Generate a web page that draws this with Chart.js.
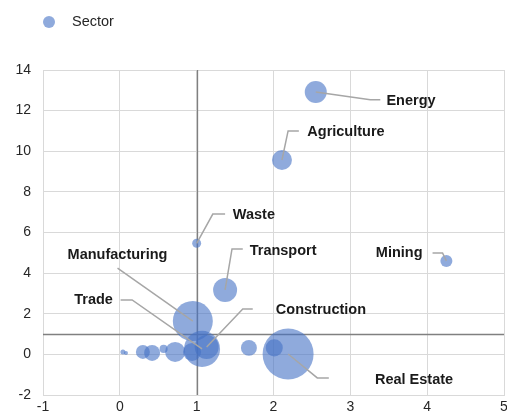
<!DOCTYPE html>
<html>
<head>
    <title>Sector bubble chart</title>
    <script src="https://cdn.jsdelivr.net/npm/chart.js"></script>
    <style>
        body {
            margin: 0;
            background: #ffffff;
            overflow: hidden;
            font-family: "Liberation Sans", Arial, sans-serif;
        }
        #sectorChart {
            display: block;
            width: 515px;
            height: 417px;
        }
    </style>
</head>
<body>
    <canvas id="sectorChart" width="515" height="417"></canvas>

    <script>
        // data
        var sectorNames = ['Energy', 'Agriculture', 'Waste', 'Transport', 'Mining', 'Manufacturing', 'Trade', 'Construction', 'Real Estate',
                           '', '', '', '', '', '', '', '', ''];
        var xValues = [2.55, 2.11, 1.00, 1.37, 4.25, 0.95, 1.07, 1.13, 2.19,
                       0.04, 0.08, 0.30, 0.42, 0.57, 0.72, 0.94, 1.68, 2.01];
        var yValues = [12.92, 9.57, 5.47, 3.17, 4.60, 1.64, 0.27, 0.36, 0.02,
                       0.12, 0.07, 0.12, 0.07, 0.27, 0.12, 0.12, 0.32, 0.32];
        var sizeValues = [19.4, 16, 3.2, 23, 5.8, 64, 52, 23, 104,
                          1, 0.64, 7.8, 10.2, 2.6, 16, 13, 10.2, 11.6];
        var xTicks = [-1, 0, 1, 2, 3, 4, 5];
        var yTicks = [-2, 0, 2, 4, 6, 8, 10, 12, 14];
        var seriesName = 'Sector';

        var bubbleColor = 'rgba(68, 114, 196, 0.6)';

        // callout placement (data units): leader path after the bubble centre, then the text
        var callouts = {
            'Energy':        { path: [[3.26, 12.53], [3.39, 12.53]], text: [3.47, 12.47], align: 'left' },
            'Agriculture':   { path: [[2.19, 11.0], [2.33, 11.0]],   text: [2.44, 10.95], align: 'left' },
            'Waste':         { path: [[1.21, 6.91], [1.37, 6.91]],   text: [1.47, 6.86], align: 'left' },
            'Transport':     { path: [[1.46, 5.19], [1.60, 5.19]],   text: [1.69, 5.09], align: 'left' },
            'Mining':        { path: [[4.20, 4.99], [4.07, 4.99]],   text: [3.94, 4.99], align: 'right' },
            'Manufacturing': { path: [[-0.03, 4.25]],                text: [-0.03, 4.90], align: 'center' },
            'Trade':         { path: [[0.16, 2.68], [0.01, 2.68]],   text: [-0.09, 2.68], align: 'right' },
            'Construction':  { path: [[1.60, 2.24], [1.73, 2.24]],   text: [2.03, 2.19], align: 'left' },
            'Real Estate':   { path: [[2.57, -1.16], [2.72, -1.16]], text: [3.32, -1.26], align: 'left' }
        };

        var points = xValues.map(function (x, i) {
            return { x: x, y: yValues[i], r: Math.sqrt(sizeValues[i]) * 2.5, name: sectorNames[i] };
        });

        var extrasPlugin = {
            id: 'extras',
            beforeDatasetsDraw: function (chart) {
                var ctx = chart.ctx, a = chart.chartArea;
                var xs = chart.scales.x, ys = chart.scales.y;
                ctx.save();
                ctx.strokeStyle = '#808080';
                ctx.lineWidth = 1.3;
                var px = Math.round(xs.getPixelForValue(1)) + 0.5;
                var py = Math.round(ys.getPixelForValue(1)) + 0.5;
                ctx.beginPath();
                ctx.moveTo(px, a.top);
                ctx.lineTo(px, a.bottom);
                ctx.moveTo(a.left, py);
                ctx.lineTo(a.right, py);
                ctx.stroke();
                ctx.restore();
            },
            afterDatasetsDraw: function (chart) {
                var ctx = chart.ctx;
                var xs = chart.scales.x, ys = chart.scales.y;
                ctx.save();
                ctx.strokeStyle = '#a6a6a6';
                ctx.lineWidth = 1.5;
                points.forEach(function (p) {
                    var c = callouts[p.name];
                    if (!c) return;
                    ctx.beginPath();
                    ctx.moveTo(xs.getPixelForValue(p.x), ys.getPixelForValue(p.y));
                    c.path.forEach(function (q) {
                        ctx.lineTo(xs.getPixelForValue(q[0]), ys.getPixelForValue(q[1]));
                    });
                    ctx.stroke();
                });
                ctx.fillStyle = '#1a1a1a';
                ctx.font = 'bold 14.5px "Liberation Sans", Arial, sans-serif';
                ctx.textBaseline = 'middle';
                points.forEach(function (p) {
                    var c = callouts[p.name];
                    if (!c) return;
                    ctx.textAlign = c.align;
                    ctx.fillText(p.name, xs.getPixelForValue(c.text[0]), ys.getPixelForValue(c.text[1]));
                });

                // legend
                ctx.fillStyle = bubbleColor;
                ctx.beginPath();
                ctx.arc(49, 22, 6, 0, Math.PI * 2);
                ctx.fill();
                ctx.fillStyle = '#262626';
                ctx.font = '14.5px "Liberation Sans", Arial, sans-serif';
                ctx.textAlign = 'left';
                ctx.fillText(seriesName, 72, 22);
                ctx.restore();
            }
        };

        var ctx = document.getElementById('sectorChart').getContext('2d');
        var sectorChart = new Chart(ctx, {
            type: 'bubble',
            data: {
                datasets: [{
                    label: seriesName,
                    data: points,
                    backgroundColor: bubbleColor,
                    borderWidth: 0,
                    hoverBorderWidth: 0
                }]
            },
            options: {
                responsive: false,
                animation: false,
                layout: {
                    autoPadding: false,
                    padding: { left: 14, top: 70, right: 11, bottom: 0 }
                },
                plugins: {
                    legend: { display: false },
                    tooltip: { enabled: false }
                },
                scales: {
                    x: {
                        type: 'linear',
                        min: -1,
                        max: 5,
                        afterBuildTicks: function (scale) {
                            scale.ticks = xTicks.map(function (v) { return { value: v }; });
                        },
                        afterFit: function (scale) {
                            scale.height = 22;
                            scale.paddingLeft = 0;
                            scale.paddingRight = 0;
                        },
                        grid: { color: '#d9d9d9', drawTicks: false },
                        border: { color: '#d9d9d9' },
                        ticks: {
                            padding: 4,
                            color: '#262626',
                            font: { family: '"Liberation Sans", Arial, sans-serif', size: 14 }
                        }
                    },
                    y: {
                        type: 'linear',
                        min: -2,
                        max: 14,
                        afterBuildTicks: function (scale) {
                            scale.ticks = yTicks.map(function (v) { return { value: v }; });
                        },
                        afterFit: function (scale) {
                            scale.width = 29;
                            scale.paddingTop = 0;
                            scale.paddingBottom = 0;
                        },
                        grid: { color: '#d9d9d9', drawTicks: false },
                        border: { color: '#d9d9d9' },
                        ticks: {
                            padding: 12,
                            color: '#262626',
                            font: { family: '"Liberation Sans", Arial, sans-serif', size: 14 }
                        }
                    }
                }
            },
            plugins: [extrasPlugin]
        });
    </script>
</body>
</html>
